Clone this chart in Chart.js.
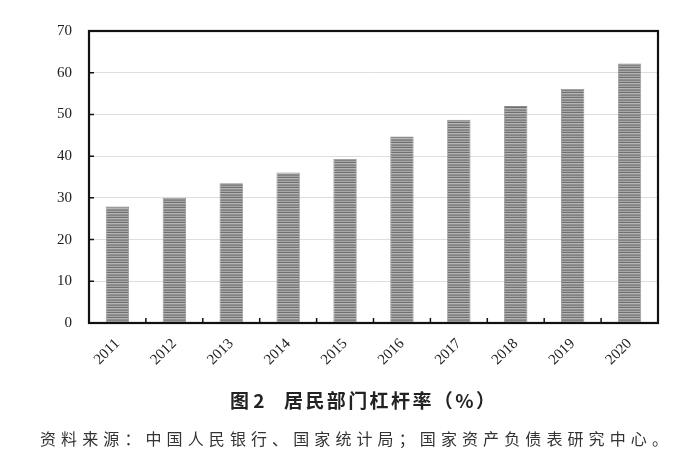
<!DOCTYPE html>
<html>
<head>
<meta charset="utf-8">
<script src="https://cdn.jsdelivr.net/npm/chart.js@4"></script>
<style>
  body { margin: 0; background: #fff; }
  #wrap { position: relative; width: 700px; height: 465px; }
  .cap {
    position: absolute; top: 386px; white-space: nowrap;
    font-family: "Noto Sans CJK SC", sans-serif; font-weight: bold; font-size: 19px; color: #222;
  }
  #source {
    position: absolute; left: 40px; top: 426px; white-space: nowrap;
    font-family: "Noto Sans CJK SC", sans-serif; font-size: 16px; letter-spacing: 5.1px; color: #333;
  }
</style>
</head>
<body>
<div id="wrap">
  <canvas id="leverageChart" width="700" height="465"></canvas>
  <div class="cap" style="left:230px">图 2</div>
  <div class="cap" style="left:284px; letter-spacing:2.4px">居民部门杠杆率（%）</div>
  <div id="source">资料来源：中国人民银行、国家统计局；国家资产负债表研究中心。</div>
</div>
<script>
// Household leverage ratio, %
const years = ['2011', '2012', '2013', '2014', '2015', '2016', '2017', '2018', '2019', '2020'];
const leverage = [27.9, 30.0, 33.5, 36.1, 39.3, 44.7, 48.7, 52.0, 56.1, 62.2];
const yMin = 0, yMax = 70, yStep = 10;

// striped gray fill like the printed bars
function stripes() {
    const c = document.createElement('canvas');
    c.width = 4; c.height = 5;
    const g = c.getContext('2d');
    const rows = ['#848484', '#a6a6a6', '#6f6f6f', '#b5b5b5', '#8f8f8f'];
    rows.forEach((col, i) => { g.fillStyle = col; g.fillRect(0, i, 4, 1); });
    return g.createPattern(c, 'repeat');
}

// frame round the plot and short inward ticks
const framePlugin = {
    id: 'frame',
    afterDraw(chart) {
        const { ctx, chartArea: a, scales } = chart;
        ctx.save();
        ctx.strokeStyle = '#111';
        ctx.lineWidth = 1.5;
        ctx.beginPath();
        const xs = scales.x;
        for (let i = 1; i < years.length; i++) {
            const px = (xs.getPixelForTick(i - 1) + xs.getPixelForTick(i)) / 2;
            ctx.moveTo(px, a.bottom); ctx.lineTo(px, a.bottom - 5);
        }
        const ys = scales.y;
        for (let v = yMin + yStep; v < yMax; v += yStep) {
            const py = ys.getPixelForValue(v);
            ctx.moveTo(a.left, py); ctx.lineTo(a.left + 5, py);
        }
        ctx.stroke();
        ctx.lineWidth = 2.2;
        ctx.strokeRect(a.left, a.top, a.right - a.left, a.bottom - a.top);
        ctx.restore();
    }
};

const ctx = document.getElementById('leverageChart').getContext('2d');
const chart = new Chart(ctx, {
    type: 'bar',
    data: {
        labels: years,
        datasets: [{
            label: '居民部门杠杆率',
            data: leverage,
            backgroundColor: stripes(),
            borderColor: '#8c8c8c',
            borderWidth: 0.8,
            barPercentage: 0.41,
            categoryPercentage: 1
        }]
    },
    options: {
        responsive: false,
        animation: false,
        layout: { padding: { left: 0, top: 31, right: 42, bottom: 0 } },
        plugins: { legend: { display: false }, tooltip: { enabled: false } },
        scales: {
            x: {
                grid: { display: false },
                border: { display: false },
                ticks: {
                    minRotation: 45, maxRotation: 45, padding: 4,
                    color: '#222', font: { family: 'Liberation Serif', size: 15 }
                },
                afterFit(s) { s.height = 142; }
            },
            y: {
                min: yMin, max: yMax,
                grid: { color: '#dedede', lineWidth: 1, drawTicks: false },
                border: { display: false },
                ticks: {
                    stepSize: yStep, padding: 17,
                    color: '#222', font: { family: 'Liberation Serif', size: 15 }
                },
                afterFit(s) { s.width = 89; }
            }
        }
    },
    plugins: [framePlugin]
});
</script>
</body>
</html>
